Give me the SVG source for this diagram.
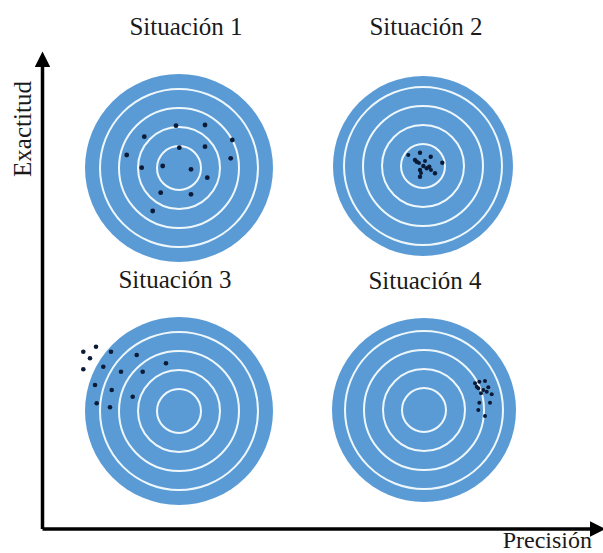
<svg xmlns="http://www.w3.org/2000/svg" width="603" height="553" viewBox="0 0 603 553">
<style>
.bg{fill:#ffffff}
.disc{fill:#5b9bd5}
.ring{fill:none;stroke:#eef8fc;stroke-width:2}
.dot{fill:#0b1a36}
.title{font-size:25px;fill:#1a1a1a;text-anchor:middle}
.axis{stroke:#000;stroke-width:3.5;fill:none}
</style>
<defs>
<marker id="arr" viewBox="0 0 10 10" refX="2" refY="5" markerWidth="4.5" markerHeight="4.5" orient="auto" markerUnits="strokeWidth">
<path d="M0,0 L10,5 L0,10 z" fill="#000"/>
</marker>
<g id="rings">
<circle class="ring" r="22"/>
<circle class="ring" r="41"/>
<circle class="ring" r="60"/>
<circle class="ring" r="79"/>
</g>
</defs>
<rect class="bg" x="0" y="0" width="603" height="553"/>

<g id="situacion1">
<text class="title" font-family="Liberation Serif, DejaVu Serif, serif" x="186" y="35">Situación 1</text>
<circle class="disc" cx="179" cy="168" r="94"/>
<use href="#rings" x="179" y="168"/>
<g class="dot">
<circle cx="176" cy="125.7" r="2.4"/><circle cx="205" cy="125" r="2.4"/><circle cx="144.3" cy="136.7" r="2.4"/>
<circle cx="232.3" cy="140" r="2.4"/><circle cx="126.7" cy="155" r="2.4"/><circle cx="179.3" cy="147.7" r="2.4"/>
<circle cx="205" cy="146.7" r="2.4"/><circle cx="230.7" cy="158.3" r="2.4"/><circle cx="141.7" cy="167.7" r="2.4"/>
<circle cx="162.7" cy="166" r="2.4"/><circle cx="191" cy="169.3" r="2.4"/><circle cx="207.3" cy="177.7" r="2.4"/>
<circle cx="160.7" cy="192.7" r="2.4"/><circle cx="191" cy="194.3" r="2.4"/><circle cx="152.7" cy="211" r="2.4"/>
</g>
</g>

<g id="situacion2">
<text class="title" font-family="Liberation Serif, DejaVu Serif, serif" x="426" y="35">Situación 2</text>
<circle class="disc" cx="423" cy="166" r="90"/>
<use href="#rings" x="423" y="166"/>
<g class="dot">
<circle cx="408.3" cy="155" r="2"/><circle cx="420" cy="152.7" r="2.2"/><circle cx="430.7" cy="156.7" r="2.2"/>
<circle cx="442.3" cy="162.7" r="2.2"/><circle cx="435" cy="173.3" r="2.2"/><circle cx="420" cy="176.7" r="2.2"/>
<circle cx="416.7" cy="161.7" r="2.2"/><circle cx="423.3" cy="166" r="2.2"/><circle cx="426.7" cy="168.3" r="2.2"/>
<circle cx="420" cy="170" r="2.2"/><circle cx="429.3" cy="166.7" r="2.2"/><circle cx="415" cy="160" r="2.2"/>
<circle cx="419" cy="163" r="2"/><circle cx="425" cy="161" r="2"/><circle cx="431" cy="170" r="2"/><circle cx="421" cy="173" r="2"/>
</g>
</g>

<g id="situacion3">
<text class="title" font-family="Liberation Serif, DejaVu Serif, serif" x="175" y="288">Situación 3</text>
<circle class="disc" cx="179" cy="411" r="94"/>
<use href="#rings" x="179" y="411"/>
<g class="dot">
<circle cx="83.3" cy="351.7" r="2.3"/><circle cx="96" cy="346.7" r="2.3"/><circle cx="90" cy="358.3" r="2.3"/>
<circle cx="83.3" cy="369.3" r="2.3"/><circle cx="111" cy="351.7" r="2.3"/><circle cx="136.7" cy="355" r="2.3"/>
<circle cx="166" cy="363.3" r="2.3"/><circle cx="103.3" cy="366.7" r="2.3"/><circle cx="121" cy="371.7" r="2.3"/>
<circle cx="142.7" cy="371.7" r="2.3"/><circle cx="95" cy="385" r="2.3"/><circle cx="111.7" cy="390" r="2.3"/>
<circle cx="132.7" cy="396.7" r="2.3"/><circle cx="96.7" cy="403.3" r="2.3"/><circle cx="110" cy="407.3" r="2.3"/>
</g>
</g>

<g id="situacion4">
<text class="title" font-family="Liberation Serif, DejaVu Serif, serif" x="425" y="289">Situación 4</text>
<circle class="disc" cx="424" cy="410" r="92"/>
<use href="#rings" x="424" y="410"/>
<g class="dot">
<circle cx="475" cy="383.3" r="2"/><circle cx="479.3" cy="381.7" r="2"/><circle cx="485" cy="381" r="2"/>
<circle cx="488.3" cy="387.3" r="2"/><circle cx="483.3" cy="390" r="2"/><circle cx="478.3" cy="388.3" r="2"/>
<circle cx="481" cy="393.3" r="2"/><circle cx="491.7" cy="394.3" r="2"/><circle cx="490" cy="402.7" r="2"/>
<circle cx="479.3" cy="402.7" r="2"/><circle cx="478.3" cy="410" r="2"/><circle cx="485" cy="416" r="2"/>
<circle cx="476.7" cy="386.7" r="2"/><circle cx="486.7" cy="391.7" r="2"/>
</g>
</g>

<g id="connectors">
<path class="axis" d="M42.5,529 L42.5,64" marker-end="url(#arr)"/>
<path class="axis" d="M42.5,529 L593,529" marker-end="url(#arr)"/>
</g>

<g id="labels">
<text class="title" font-family="Liberation Serif, DejaVu Serif, serif" x="0" y="0" transform="translate(31,129) rotate(-90)">Exactitud</text>
<text class="title" font-family="Liberation Serif, DejaVu Serif, serif" font-size="24" x="592" y="548" style="text-anchor:end;font-size:24px">Precisión</text>
</g>
</svg>
